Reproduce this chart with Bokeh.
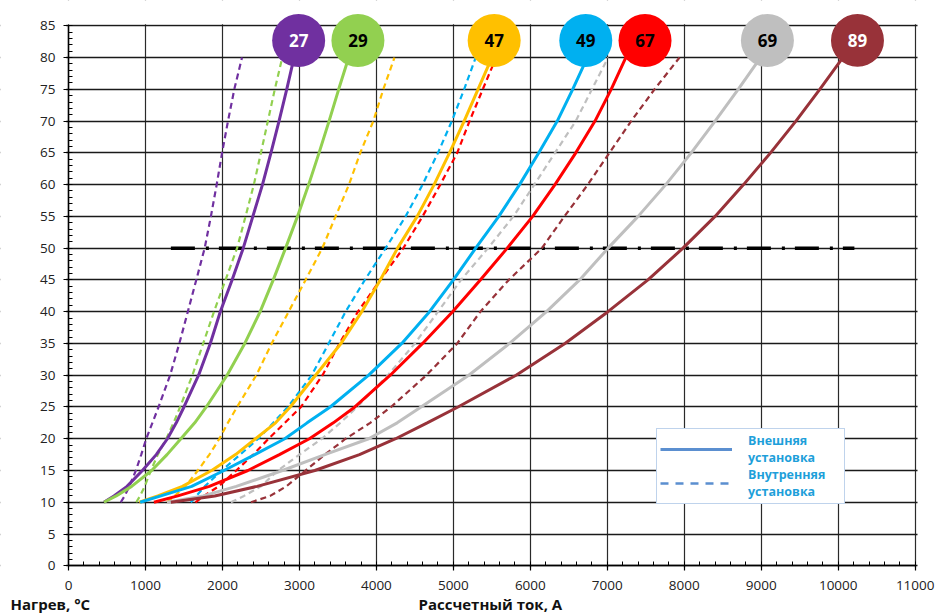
import numpy as np
from bokeh.plotting import figure
from bokeh.models import Range1d, FixedTicker, Label, Legend, LegendItem, BoxAnnotation
from bokeh.core.properties import value
from bokeh.embed import file_html
from bokeh.resources import INLINE

# Temperature levels (°C) at which the current was read
temps = [10, 11, 12.5, 15, 17.5, 20, 22.5, 25, 30, 35, 40, 45, 50, 55, 60, 65, 70, 75, 80]

# Current (A): outdoor installation (solid, ext_) and indoor installation (dashed, int_)
ext_27 = [460, 590, 760, 960, 1140, 1285, 1400, 1500, 1690, 1842, 1972, 2125, 2270, 2395, 2520, 2630, 2735, 2835, 2930]
int_27 = [679, 730, 790, 875, 945, 1010, 1090, 1170, 1320, 1440, 1550, 1660, 1769, 1850, 1925, 1995, 2072, 2154, 2254]
ext_29 = [460, 620, 820, 1080, 1280, 1460, 1640, 1790, 2060, 2290, 2490, 2660, 2820, 2975, 3120, 3255, 3385, 3510, 3640]
int_29 = [880, 930, 990, 1070, 1160, 1270, 1365, 1450, 1610, 1750, 1890, 2040, 2190, 2300, 2408, 2500, 2590, 2680, 2777]
ext_47 = [920, 1160, 1480, 1860, 2170, 2430, 2690, 2880, 3210, 3540, 3810, 4050, 4275, 4530, 4750, 4950, 5140, 5320, 5500]
int_47 = [1280, 1380, 1520, 1680, 1830, 1960, 2070, 2190, 2440, 2640, 2860, 3080, 3297, 3470, 3644, 3790, 3960, 4090, 4235]
ext_49 = [930, 1200, 1600, 2020, 2420, 2810, 3100, 3400, 3900, 4330, 4690, 5000, 5290, 5590, 5860, 6110, 6350, 6550, 6740]
int_49 = [1590, 1660, 1770, 1990, 2230, 2465, 2660, 2850, 3160, 3380, 3600, 3850, 4120, 4380, 4600, 4800, 4980, 5140, 5290]
ext_67 = [1110, 1420, 1830, 2330, 2740, 3130, 3440, 3720, 4180, 4600, 4990, 5350, 5700, 6030, 6320, 6590, 6840, 7050, 7240]
int_67 = [1650, 1760, 1950, 2180, 2400, 2600, 2810, 3020, 3300, 3520, 3760, 4050, 4350, 4600, 4830, 5050, 5210, 5382, 5555]
ext_69 = [1280, 1750, 2180, 2780, 3330, 3900, 4270, 4580, 5200, 5730, 6210, 6640, 7010, 7400, 7760, 8090, 8400, 8700, 8990]
int_69 = [2110, 2280, 2500, 2720, 3000, 3290, 3530, 3750, 4150, 4500, 4800, 5100, 5450, 5780, 6052, 6320, 6590, 6800, 7010]
ext_89 = [1330, 1900, 2450, 3200, 3780, 4250, 4660, 5060, 5815, 6450, 7008, 7528, 7983, 8400, 8770, 9120, 9450, 9760, 10060]
int_89 = [2370, 2620, 2830, 3080, 3330, 3600, 3920, 4190, 4650, 5050, 5350, 5720, 6150, 6443, 6747, 7028, 7310, 7613, 7938]

series_names = ["27", "29", "47", "49", "67", "69", "89"]
series_colors = ["#7030A0", "#92D050", "#FFC000", "#00B0F0", "#FF0000", "#BFBFBF", "#983239"]
ext_series = [ext_27, ext_29, ext_47, ext_49, ext_67, ext_69, ext_89]
int_series = [int_27, int_29, int_47, int_49, int_67, int_69, int_89]

# Badge positions (current, temperature) at the end of each solid curve
label_x = [2990, 3760, 5530, 6720, 7490, 9080, 10250]
label_y = [82.7, 82.7, 82.7, 82.7, 82.7, 82.7, 82.7]
label_text_colors = ["white", "black", "black", "black", "black", "black", "white"]

# 50 °C reference line
limit_x = [1330, 10210]
limit_y = [50, 50]

x_ticks = list(range(0, 11001, 1000))
x_minor = list(range(0, 11001, 200))
y_ticks = list(range(0, 86, 5))
y_minor = list(range(0, 86, 1))

FONT = "Open Sans"

p = figure(width=935, height=615, output_backend="svg", toolbar_location=None,
           x_range=Range1d(-883.5, 11263.7), y_range=Range1d(-7.823, 88.98),
           min_border_left=0, min_border_right=0, min_border_top=0, min_border_bottom=0)
p.outline_line_color = None
p.background_fill_color = "white"
p.border_fill_color = "white"

# Axes (placed at the data origin)
p.xaxis.fixed_location = 0
p.yaxis.fixed_location = 0
p.xaxis.ticker = FixedTicker(ticks=x_ticks, minor_ticks=x_minor)
p.yaxis.ticker = FixedTicker(ticks=y_ticks, minor_ticks=y_minor)
p.xaxis.bounds = (0, 11000)
p.yaxis.bounds = (0, 85)
for ax in (p.xaxis, p.yaxis):
    ax.axis_line_color = "black"
    ax.axis_line_width = 1.5
    ax.major_tick_line_color = "black"
    ax.major_tick_line_width = 1.2
    ax.minor_tick_line_color = "black"
    ax.minor_tick_line_width = 1
    ax.major_tick_out = 5
    ax.major_tick_in = 0
    ax.minor_tick_in = 4
    ax.minor_tick_out = 0
    ax.major_label_text_font = FONT
    ax.major_label_text_font_size = "13.5px"
    ax.major_label_text_color = "#222222"
p.xaxis.major_label_standoff = 10
p.yaxis.major_label_standoff = 8

p.xgrid.ticker = FixedTicker(ticks=x_ticks)
p.ygrid.ticker = FixedTicker(ticks=y_ticks)
p.xgrid.grid_line_color = "#2a2a2a"
p.xgrid.grid_line_width = 1.2
p.ygrid.grid_line_color = "#1a1a1a"
p.ygrid.grid_line_width = 1.4

# keep grid lines inside the 0..11000 x 0..85 box
for kw in (dict(bottom=85.25), dict(top=-0.25), dict(right=-30), dict(left=11030)):
    p.add_layout(BoxAnnotation(fill_color="white", fill_alpha=1, line_color=None,
                               level="underlay", **kw))

# reference line at 50 °C
p.line(limit_x, limit_y, line_color="black", line_width=3.5, line_dash="24 11 3 10")

# curves
for col, ix in zip(series_colors, int_series):
    p.line(ix, temps, line_color=col, line_width=2.2, line_dash="6 4")
for col, ex, lx, ly in zip(series_colors, ext_series, label_x, label_y):
    p.line(list(ex) + [lx], list(temps) + [ly], line_color=col, line_width=3)

# badges
p.scatter(label_x, label_y, size=53, fill_color=series_colors, line_color=None)
p.text(label_x, label_y, text=series_names, text_color=label_text_colors,
       text_align="center", text_baseline="middle",
       text_font=value(FONT), text_font_style="bold", text_font_size="17px")

# legend
r_solid = p.line([np.nan], [np.nan], line_color="#5B8FD0", line_width=3)
r_dash = p.line([np.nan], [np.nan], line_color="#5B8FD0", line_width=2.5, line_dash="8 7")
legend = Legend(items=[LegendItem(label="Внешняя\nустановка", renderers=[r_solid]),
                       LegendItem(label="Внутренняя\nустановка", renderers=[r_dash])],
                location=(656, 111), margin=0, padding=3, spacing=0,
                glyph_width=72, label_standoff=16, label_width=93)
legend.label_text_font = FONT
legend.label_text_font_style = "bold"
legend.label_text_font_size = "12.5px"
legend.label_text_color = "#1E9FDA"
legend.border_line_color = "#7FA7D9"
legend.border_line_width = 1
legend.background_fill_alpha = 1
p.add_layout(legend)

# axis titles
p.add_layout(Label(x=10, y=2, x_units="screen", y_units="screen", text="Нагрев, °C",
                   text_font=FONT, text_font_style="bold", text_font_size="15px",
                   text_color="#111111", text_baseline="bottom"))
p.add_layout(Label(x=418, y=2, x_units="screen", y_units="screen", text="Рассчетный ток, А",
                   text_font=FONT, text_font_style="bold", text_font_size="15px",
                   text_color="#111111", text_baseline="bottom"))

open("out.html", "w").write(file_html(p, INLINE))
